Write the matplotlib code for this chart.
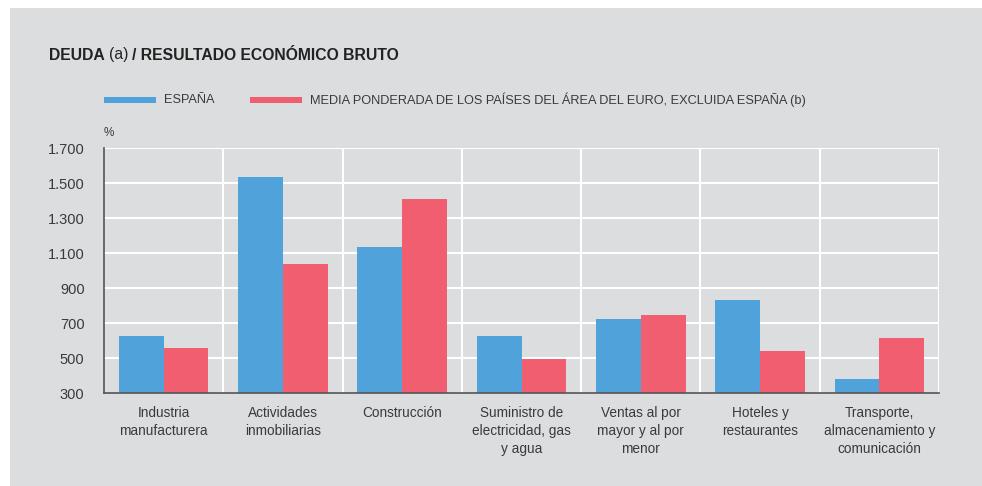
import numpy as np
import matplotlib.pyplot as plt
from matplotlib.patches import Rectangle

plt.rcParams['font.family'] = ['Liberation Sans', 'DejaVu Sans']

# data
categories = ['Industria\nmanufacturera', 'Actividades\ninmobiliarias', 'Construcción',
              'Suministro de\nelectricidad, gas\ny agua', 'Ventas al por\nmayor y al por\nmenor',
              'Hoteles y\nrestaurantes', 'Transporte,\nalmacenamiento y\ncomunicación']
espana = [625, 1535, 1135, 625, 723, 831, 380]
media_euro = [560, 1040, 1410, 495, 746, 540, 612]
yticks = [300, 500, 700, 900, 1100, 1300, 1500, 1700]
ytick_labels = ['300', '500', '700', '900', '1.100', '1.300', '1.500', '1.700']

BLUE = '#4FA3DA'
RED = '#F05E70'
BG = '#DCDDDF'
TXT = '#3a3a3a'

W, H = 982, 486
fig = plt.figure(figsize=(W / 100, H / 100), dpi=100)
fig.patch.set_facecolor('white')
fig.patches.append(Rectangle((10 / W, 0), 1 - 10 / W, 1 - 8 / H, transform=fig.transFigure,
                             facecolor=BG, edgecolor='none', zorder=-10))

ax = fig.add_axes([104 / W, 1 - 393 / H, (939 - 104) / W, (393 - 148) / H])
ax.set_facecolor(BG)

x = np.arange(len(categories))
bw = 0.375
ax.bar(x - bw / 2, espana, bw, color=BLUE, zorder=3)
ax.bar(x + bw / 2, media_euro, bw, color=RED, zorder=3)

ax.set_xlim(-0.5, len(categories) - 0.5)
ax.set_ylim(300, 1700)
ax.set_yticks(yticks)
ax.set_yticklabels(ytick_labels, fontsize=10.5, color=TXT)
ax.set_xticks(x)
ax.set_xticklabels(categories, fontsize=9.8, color=TXT, linespacing=1.4)
ax.tick_params(axis='both', length=0)
ax.tick_params(axis='y', pad=14)
ax.tick_params(axis='x', pad=9)

# white grid: horizontal at ticks, vertical at category boundaries
for yv in yticks[1:]:
    ax.axhline(yv, color='white', lw=1.5, zorder=1)
for xv in np.arange(0.5, len(categories) - 0.5 + 0.01, 1):
    ax.axvline(xv, color='white', lw=1.5, zorder=1)

for s in ['top', 'right']:
    ax.spines[s].set_visible(False)
for s in ['left', 'bottom']:
    ax.spines[s].set_color('#555555')
    ax.spines[s].set_linewidth(1.2)
    ax.spines[s].set_zorder(4)

# title, pieces placed one after another
renderer = fig.canvas.get_renderer()
tx = 49
for part, weight in [('DEUDA', 'bold'), ('(a)', 'normal'), ('/ RESULTADO ECONÓMICO BRUTO', 'bold')]:
    t = fig.text(tx / W, 1 - 55 / H, part, fontsize=11.3, fontweight=weight, color='#222222', va='center')
    bb = t.get_window_extent(renderer)
    tx += bb.width + 4

# legend
ly = 1 - 100 / H
fig.patches.append(Rectangle((104 / W, ly - 3 / H), 52 / W, 6 / H, transform=fig.transFigure,
                             facecolor=BLUE, edgecolor='none'))
fig.text(164 / W, ly, 'ESPAÑA', fontsize=9.2, color=TXT, va='center')
fig.patches.append(Rectangle((250 / W, ly - 3 / H), 52 / W, 6 / H, transform=fig.transFigure,
                             facecolor=RED, edgecolor='none'))
fig.text(310 / W, ly, 'MEDIA PONDERADA DE LOS PAÍSES DEL ÁREA DEL EURO, EXCLUIDA ESPAÑA (b)',
         fontsize=9.2, color=TXT, va='center')

fig.text(104 / W, 1 - 133 / H, '%', fontsize=8.5, color=TXT, va='center')

fig.savefig('out.png', dpi=100, facecolor=fig.get_facecolor())
